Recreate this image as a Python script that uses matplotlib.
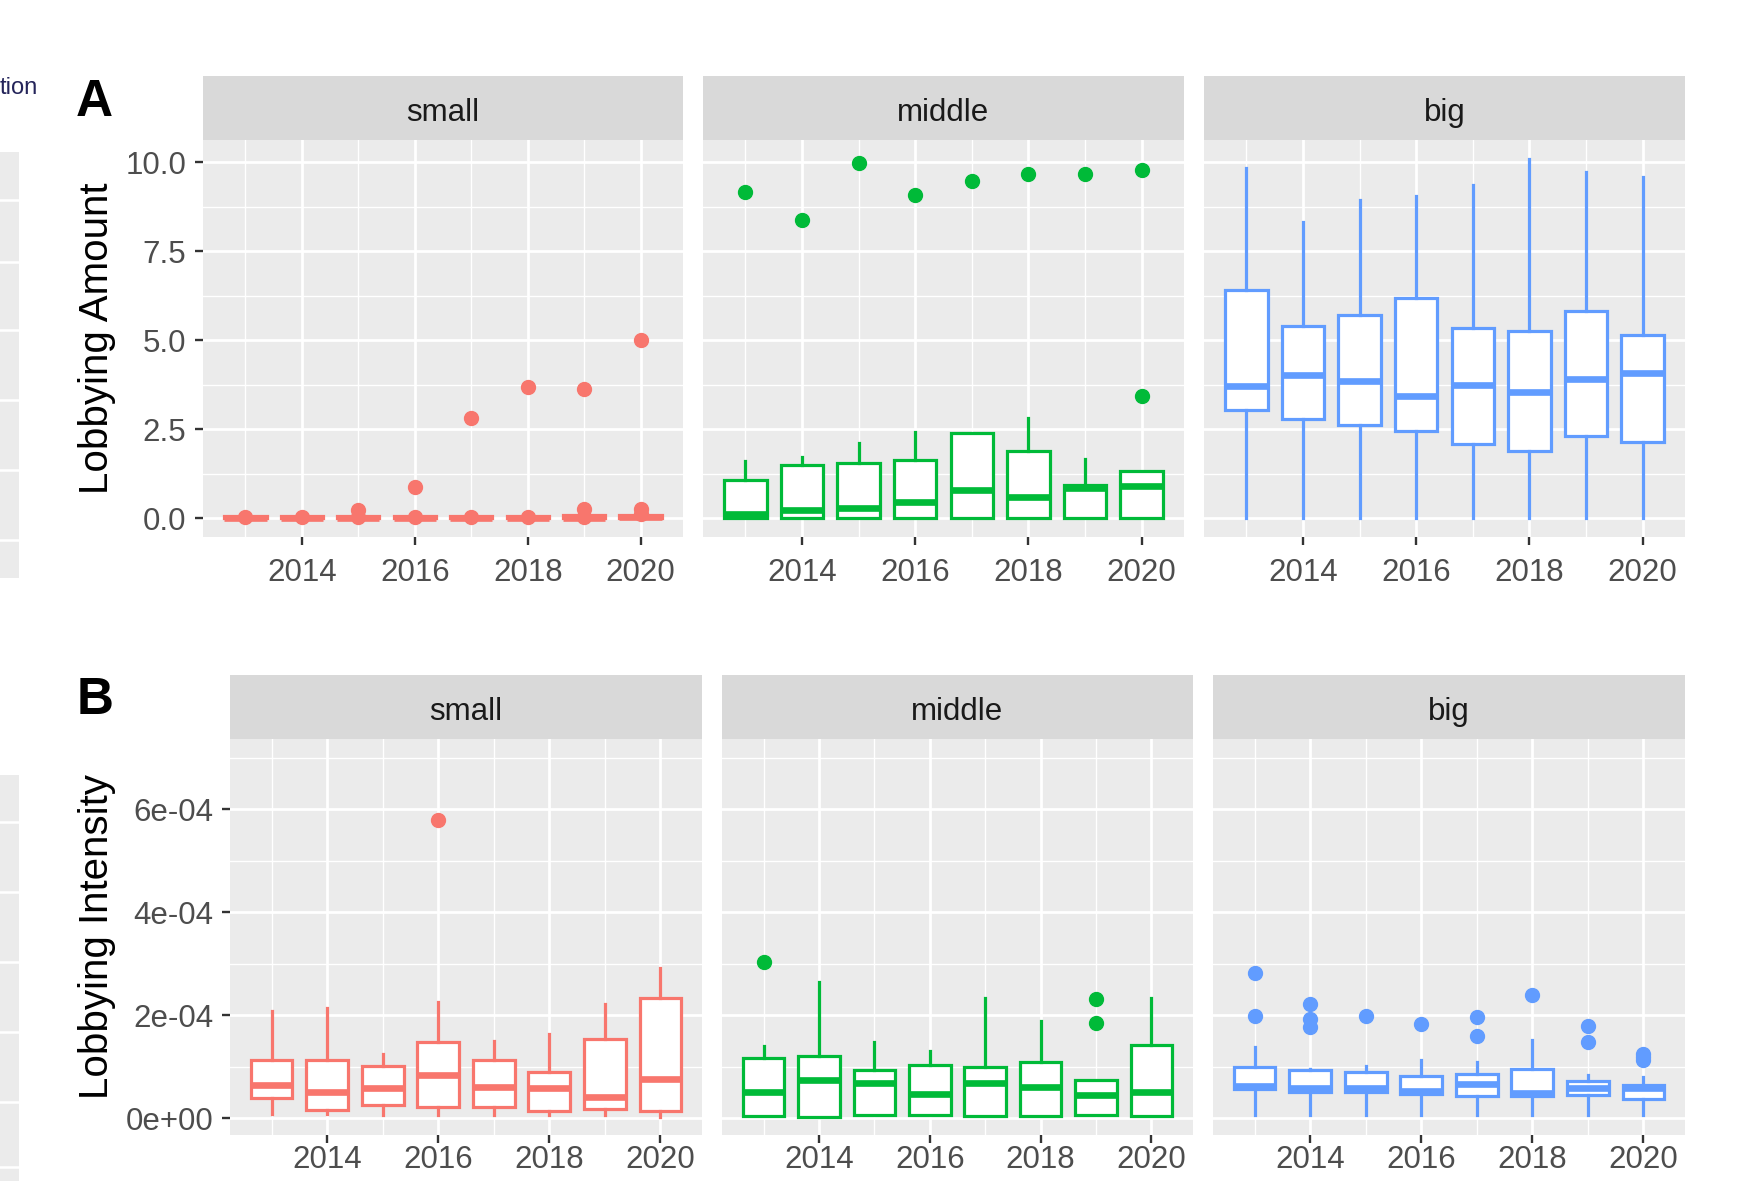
import numpy as np
import matplotlib
matplotlib.use("Agg")
import matplotlib.pyplot as plt
from matplotlib.ticker import FixedLocator, FuncFormatter

plt.rcParams['font.family'] = ['Liberation Sans', 'DejaVu Sans']

# ---------------- data ----------------
years = [2013, 2014, 2015, 2016, 2017, 2018, 2019, 2020]
groups = ["small", "middle", "big"]
group_colors = ["#F8766D", "#00BA38", "#619CFF"]

# Lobbying Amount — box statistics per year
amount_small_q1 = [0, 0, 0, 0, 0, 0, 0, 0]
amount_small_med = [0, 0, 0, 0, 0, 0, 0, 0.02]
amount_small_q3 = [0.07, 0.07, 0.07, 0.07, 0.07, 0.07, 0.08, 0.1]
amount_small_lo = [0, 0, 0, 0, 0, 0, 0, 0]
amount_small_hi = [0.07, 0.07, 0.07, 0.07, 0.07, 0.07, 0.08, 0.1]
amount_small_out = [[0.02], [0.02], [0.02, 0.22], [0.02, 0.88], [0.02, 2.8],
                    [0.02, 3.67], [0.02, 0.26, 3.63], [0.12, 0.27, 5.0]]

amount_middle_q1 = [0, 0, 0, 0, 0, 0, 0, 0]
amount_middle_med = [0.12, 0.22, 0.28, 0.44, 0.80, 0.60, 0.85, 0.90]
amount_middle_q3 = [1.06, 1.48, 1.56, 1.63, 2.39, 1.88, 0.93, 1.31]
amount_middle_lo = [0, 0, 0, 0, 0, 0, 0, 0]
amount_middle_hi = [1.61, 1.71, 2.11, 2.41, 2.39, 2.81, 1.66, 1.31]
amount_middle_out = [[9.17], [8.37], [9.98], [9.07], [9.47], [9.67], [9.67], [3.44, 9.78]]

amount_big_q1 = [3.04, 2.79, 2.61, 2.46, 2.09, 1.89, 2.31, 2.13]
amount_big_med = [3.72, 4.02, 3.85, 3.44, 3.75, 3.55, 3.90, 4.07]
amount_big_q3 = [6.40, 5.41, 5.71, 6.18, 5.33, 5.26, 5.83, 5.15]
amount_big_lo = [0, 0, 0, 0, 0, 0, 0, 0]
amount_big_hi = [9.83, 8.31, 8.94, 9.05, 9.37, 10.08, 9.72, 9.57]
amount_big_out = [[], [], [], [], [], [], [], []]

# Lobbying Intensity — box statistics per year (in units of 1e-4)
INTENSITY_UNIT = 1e-4
intensity_small_q1 = [0.38, 0.16, 0.25, 0.21, 0.21, 0.13, 0.17, 0.13]
intensity_small_med = [0.65, 0.51, 0.59, 0.83, 0.61, 0.59, 0.40, 0.76]
intensity_small_q3 = [1.12, 1.12, 1.01, 1.47, 1.12, 0.90, 1.54, 2.33]
intensity_small_lo = [0.08, 0.08, 0.05, 0.05, 0.05, 0.05, 0.05, 0.01]
intensity_small_hi = [2.08, 2.14, 1.24, 2.25, 1.50, 1.63, 2.21, 2.92]
intensity_small_out = [[], [], [], [5.79], [], [], [], []]

intensity_middle_q1 = [0.03, 0.01, 0.06, 0.06, 0.03, 0.03, 0.06, 0.03]
intensity_middle_med = [0.50, 0.74, 0.68, 0.46, 0.68, 0.61, 0.44, 0.50]
intensity_middle_q3 = [1.17, 1.20, 0.93, 1.02, 1.00, 1.09, 0.74, 1.42]
intensity_middle_lo = [0.03, 0.01, 0.06, 0.06, 0.03, 0.03, 0.06, 0.03]
intensity_middle_hi = [1.40, 2.65, 1.47, 1.30, 2.33, 1.88, 0.74, 2.33]
intensity_middle_out = [[3.03], [], [], [], [], [], [1.85, 2.32], []]

intensity_big_q1 = [0.56, 0.51, 0.51, 0.46, 0.42, 0.42, 0.45, 0.37]
intensity_big_med = [0.63, 0.58, 0.58, 0.53, 0.66, 0.48, 0.58, 0.58]
intensity_big_q3 = [0.99, 0.94, 0.90, 0.82, 0.85, 0.96, 0.71, 0.65]
intensity_big_lo = [0.05, 0.05, 0.05, 0.05, 0.05, 0.05, 0.05, 0.05]
intensity_big_hi = [1.38, 0.96, 1.01, 1.12, 1.09, 1.52, 0.83, 0.80]
intensity_big_out = [[1.99, 2.82], [1.77, 1.92, 2.22], [1.99], [1.82], [1.59, 1.96],
                     [2.38], [1.48, 1.79], [1.12, 1.18, 1.24]]

x_ticks = [2014, 2016, 2018, 2020]
x_minor = [2013, 2015, 2017, 2019]
amount_ticks = [0.0, 2.5, 5.0, 7.5, 10.0]
amount_minor = [1.25, 3.75, 6.25, 8.75]
intensity_ticks = [0, 2e-4, 4e-4, 6e-4]
intensity_minor = [1e-4, 3e-4, 5e-4, 7e-4]

# ---------------- figure ----------------
W, H = 1742, 1181
fig = plt.figure(figsize=(W / 100, H / 100), dpi=100)
fig.patch.set_facecolor("white")

PANEL_BG = "#EBEBEB"
STRIP_BG = "#D9D9D9"
TICK_TXT = "#4D4D4D"
TICK_CLR = "#333333"


def px_axes(x0, y0, x1, y1):
    return fig.add_axes([x0 / W, 1 - y1 / H, (x1 - x0) / W, (y1 - y0) / H])


def build_stats(q1, med, q3, lo, hi, out, scale=1.0):
    stats = []
    for i in range(len(years)):
        stats.append(dict(q1=q1[i] * scale, med=med[i] * scale, q3=q3[i] * scale,
                          whislo=lo[i] * scale, whishi=hi[i] * scale,
                          fliers=np.array(out[i], dtype=float) * scale))
    return stats


def draw_panel(ax, stats, color, ylim, yticks, yminor, show_y, yfmt, xpad):
    ax.set_facecolor(PANEL_BG)
    for s in ax.spines.values():
        s.set_visible(False)
    ax.set_xlim(2012.25, 2020.75)
    ax.set_ylim(*ylim)
    ax.xaxis.set_major_locator(FixedLocator(x_ticks))
    ax.xaxis.set_minor_locator(FixedLocator(x_minor))
    ax.yaxis.set_major_locator(FixedLocator(yticks))
    ax.yaxis.set_minor_locator(FixedLocator(yminor))
    ax.grid(which="major", color="white", linewidth=2.0)
    ax.grid(which="minor", color="white", linewidth=1.0)
    ax.set_axisbelow(True)
    ax.tick_params(axis="both", which="major", length=6, width=1.7, color=TICK_CLR,
                   labelsize=22.5, labelcolor=TICK_TXT, pad=6)
    ax.tick_params(axis="x", which="major", pad=xpad)
    ax.tick_params(axis="both", which="minor", length=0)
    ax.xaxis.set_major_formatter(FuncFormatter(lambda v, p: f"{int(v)}"))
    if show_y:
        ax.yaxis.set_major_formatter(FuncFormatter(yfmt))
    else:
        ax.tick_params(axis="y", which="major", length=0, labelleft=False)
    ax.bxp(stats, positions=years, widths=0.75, showcaps=False, patch_artist=True,
           boxprops=dict(facecolor="white", edgecolor=color, linewidth=2.3),
           medianprops=dict(color=color, linewidth=4.8, solid_capstyle="butt"),
           whiskerprops=dict(color=color, linewidth=2.3),
           flierprops=dict(marker="o", markerfacecolor=color, markeredgecolor=color,
                           markersize=10, linestyle="none"),
           manage_ticks=False)


def draw_strip(x0, x1, y0, y1, label):
    sax = px_axes(x0, y0, x1, y1)
    sax.set_facecolor(STRIP_BG)
    sax.set_xticks([])
    sax.set_yticks([])
    for s in sax.spines.values():
        s.set_visible(False)
    sax.text(0.5, 0.42, label, ha="center", va="center", fontsize=22.5,
             color="#1A1A1A", transform=sax.transAxes)


amount_stats = [
    build_stats(amount_small_q1, amount_small_med, amount_small_q3,
                amount_small_lo, amount_small_hi, amount_small_out),
    build_stats(amount_middle_q1, amount_middle_med, amount_middle_q3,
                amount_middle_lo, amount_middle_hi, amount_middle_out),
    build_stats(amount_big_q1, amount_big_med, amount_big_q3,
                amount_big_lo, amount_big_hi, amount_big_out),
]
intensity_stats = [
    build_stats(intensity_small_q1, intensity_small_med, intensity_small_q3,
                intensity_small_lo, intensity_small_hi, intensity_small_out, INTENSITY_UNIT),
    build_stats(intensity_middle_q1, intensity_middle_med, intensity_middle_q3,
                intensity_middle_lo, intensity_middle_hi, intensity_middle_out, INTENSITY_UNIT),
    build_stats(intensity_big_q1, intensity_big_med, intensity_big_q3,
                intensity_big_lo, intensity_big_hi, intensity_big_out, INTENSITY_UNIT),
]

# Row A: Lobbying Amount
row_a_x = [(203, 683), (703, 1184), (1204, 1685)]
for i, (x0, x1) in enumerate(row_a_x):
    draw_strip(x0, x1, 76, 140, groups[i])
    ax = px_axes(x0, 140, x1, 537)
    draw_panel(ax, amount_stats[i], group_colors[i], (-0.53, 10.62),
               amount_ticks, amount_minor, i == 0, lambda v, p: f"{v:.1f}", 9)

# Row B: Lobbying Intensity
row_b_x = [(230, 702), (722, 1193), (1213, 1685)]
for i, (x0, x1) in enumerate(row_b_x):
    draw_strip(x0, x1, 675, 739, groups[i])
    ax = px_axes(x0, 739, x1, 1135)
    draw_panel(ax, intensity_stats[i], group_colors[i], (-0.33e-4, 7.36e-4),
               intensity_ticks, intensity_minor, i == 0, lambda v, p: f"{v:.0e}", 1.5)

# Axis titles and panel letters
fig.text(97 / W, 1 - 338 / H, "Lobbying Amount", rotation=90, ha="center", va="center",
         fontsize=29, color="black")
fig.text(97 / W, 1 - 937 / H, "Lobbying Intensity", rotation=90, ha="center", va="center",
         fontsize=29, color="black")
fig.text(76 / W, 1 - 102 / H, "A", ha="left", va="center", fontsize=37,
         fontweight="bold", color="black")
fig.text(77 / W, 1 - 701 / H, "B", ha="left", va="center", fontsize=37,
         fontweight="bold", color="black")

# Neighbouring figure edge on the left
fig.text(0, 1 - 88 / H, "tion", ha="left", va="center", fontsize=17, color="#24245a")
for (y0, y1, lines) in [(152, 578, [200, 262, 330, 400, 470, 540]),
                        (775, 1181, [822, 892, 962, 1032, 1102, 1167])]:
    eax = px_axes(0, y0, 19, y1)
    eax.set_facecolor(PANEL_BG)
    eax.set_xlim(0, 1)
    eax.set_ylim(y1, y0)
    for yy in lines:
        eax.axhline(yy, color="white", linewidth=1.8)
    eax.set_xticks([])
    eax.set_yticks([])
    for s in eax.spines.values():
        s.set_visible(False)

fig.savefig("out.png", dpi=100, facecolor="white")
